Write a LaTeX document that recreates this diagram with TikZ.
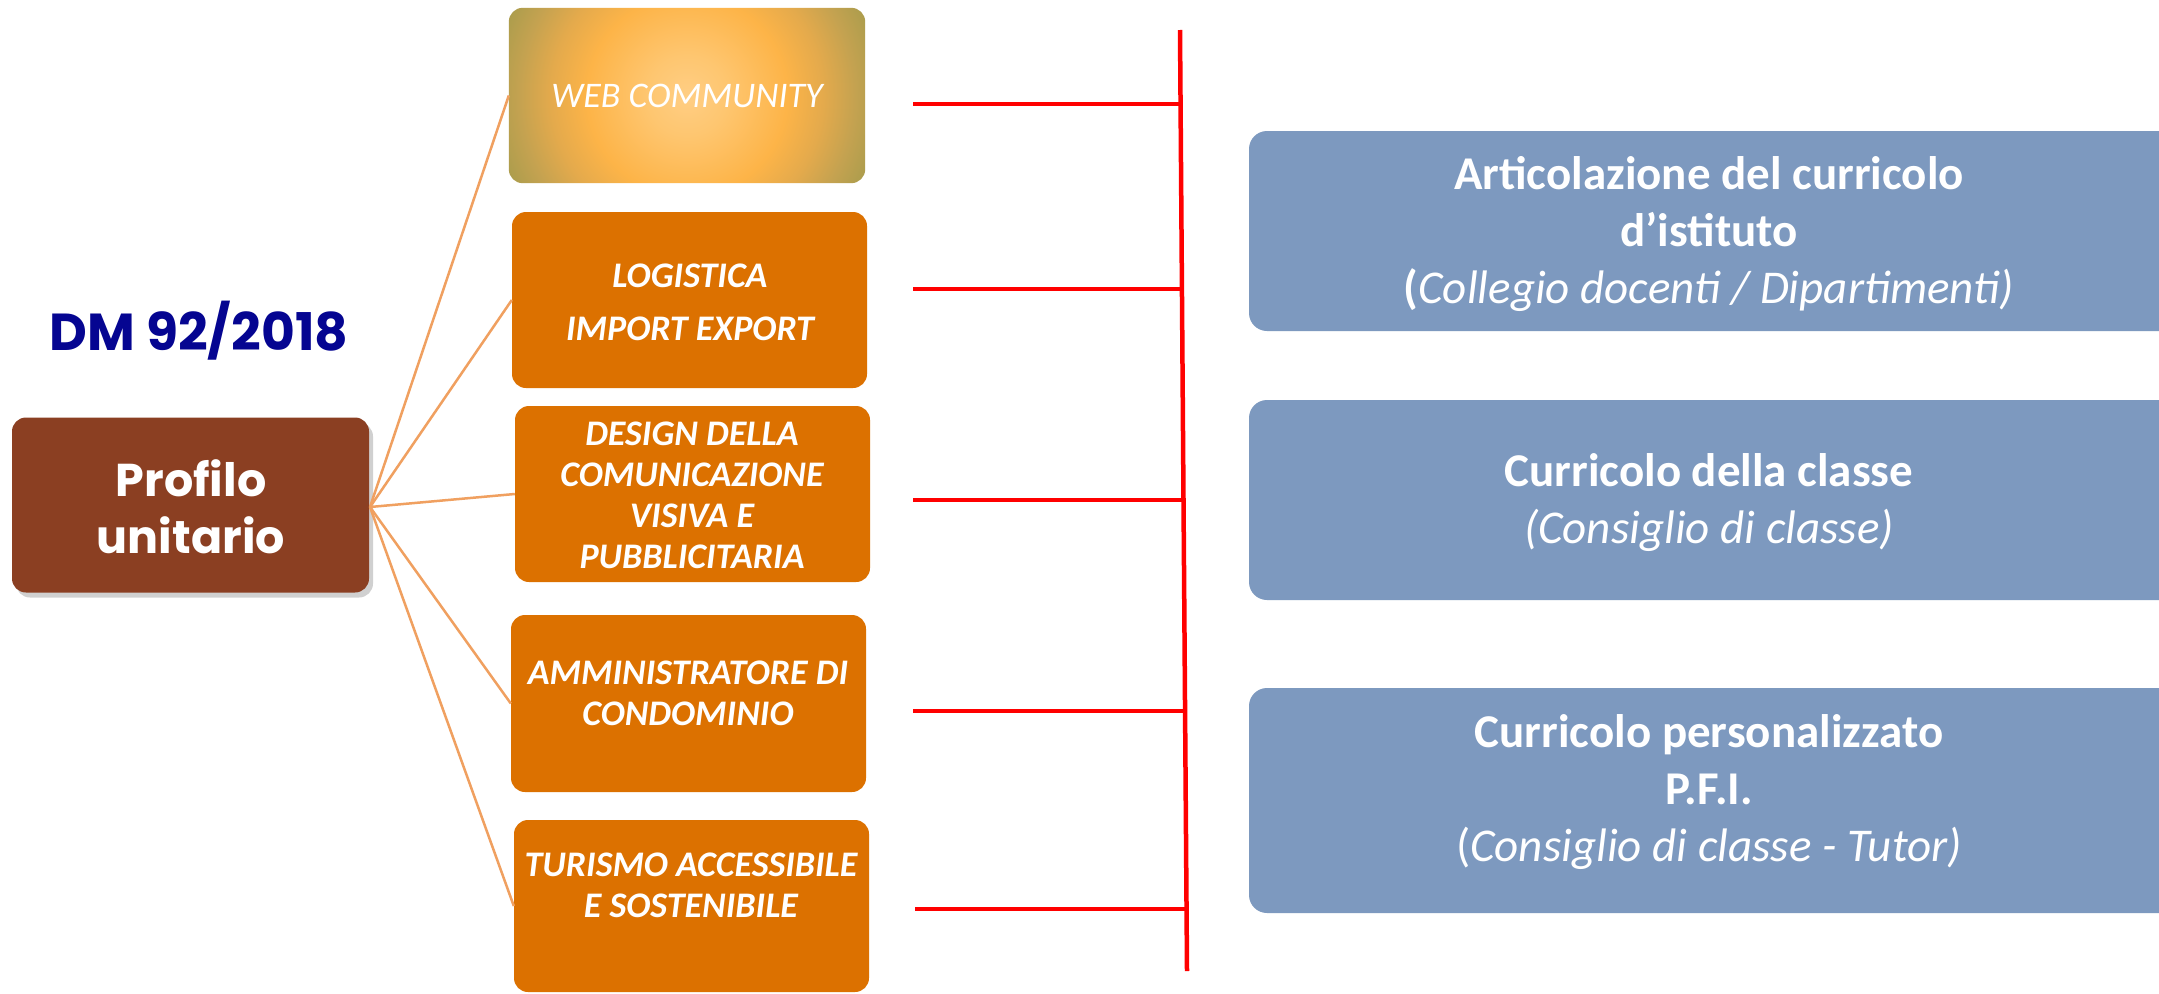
\documentclass[tikz,border=0pt]{standalone}
\usepackage{fontspec}
\setmainfont{Carlito}
\newfontfamily\gothic{Poppins}
\usetikzlibrary{shadows}
\definecolor{brownb}{RGB}{139,63,34}
\definecolor{orangeb}{RGB}{220,113,0}
\definecolor{blueb}{RGB}{125,153,191}
\definecolor{navyt}{RGB}{5,5,145}
\definecolor{connc}{RGB}{240,160,96}
\definecolor{wcA}{RGB}{255,206,132}
\definecolor{wcB}{RGB}{254,198,112}
\definecolor{wcC}{RGB}{253,180,72}
\definecolor{wcD}{RGB}{228,170,76}
\definecolor{wcE}{RGB}{196,162,80}
\definecolor{wcF}{RGB}{168,156,76}
\pgfdeclareradialshading{webglow}{\pgfpoint{0bp}{0bp}}{color(0bp)=(wcA); color(5bp)=(wcB); color(12.5bp)=(wcC); color(17bp)=(wcD); color(21bp)=(wcE); color(25bp)=(wcF); color(50bp)=(wcF)}
\begin{document}
\begin{tikzpicture}[x=1pt,y=-1pt,
  obox/.style={fill=orangeb, rounded corners=14pt, minimum width=355pt, minimum height=176pt, inner sep=0pt},
  otext/.style={text=white, font=\bfseries\itshape\fontsize{36}{41}\selectfont, align=center, inner sep=0pt},
  bbox/.style={fill=blueb, rounded corners=18pt, inner sep=0pt, minimum width=931pt},
  btext/.style={text=white, font=\bfseries\fontsize{47}{57}\selectfont, align=center, inner sep=0pt},
  redline/.style={draw=red, line width=4.5pt},
  conn/.style={draw=connc, line width=2.5pt}]
\useasboundingbox (0,0) rectangle (2159,993);
\fill[white] (0,0) rectangle (2159,993);

% left title
\node[text=navyt, font=\gothic\bfseries\fontsize{52}{58}\selectfont, inner sep=0pt] (dm) at (199,331) {DM 92/2018};

% main brown box
\node[fill=brownb, rounded corners=14pt, minimum width=357pt, minimum height=175pt, inner sep=0pt,
  drop shadow={shadow xshift=4pt, shadow yshift=-5pt, opacity=0.3, fill=black!60}] (prof) at (190.5,505) {};
\node[text=white, font=\gothic\bfseries\fontsize{46}{57}\selectfont, align=center, inner sep=0pt] (proft) at (191,507) {Profilo\\unitario};

% web community box with glow
\node[minimum width=356pt, minimum height=175pt, inner sep=0pt] (web) at (687,95.5) {};
\begin{scope}
  \clip[rounded corners=14pt] (web.south west) rectangle (web.north east);
  \shade[shading=webglow] (web.center) circle[radius=200pt];
\end{scope}
\node[text=white, font=\itshape\fontsize{36}{41}\selectfont, inner sep=0pt] (webt) at (687,96) {WEB COMMUNITY};

% orange boxes
\node[obox] (log) at (689.5,300) {};
\node[otext] (logt) at (690,302) {LOGISTICA\\[12pt]IMPORT EXPORT};
\node[obox] (des) at (692.5,494) {};
\node[otext] (dest) at (692,495) {DESIGN DELLA\\COMUNICAZIONE\\VISIVA E\\PUBBLICITARIA};
\node[obox, minimum height=177pt] (amm) at (688.5,703.5) {};
\node[otext] (ammt) at (688,693) {AMMINISTRATORE DI\\CONDOMINIO};
\node[obox, minimum height=172pt] (tur) at (691.5,906) {};
\node[otext] (turt) at (691,885) {TURISMO ACCESSIBILE\\E SOSTENIBILE};

% connectors
\coordinate (hub) at (370,507);
\draw[conn] (hub) -- (web.west);
\draw[conn] (hub) -- (log.west);
\draw[conn] (hub) -- (des.west);
\draw[conn] (hub) -- (amm.west);
\draw[conn] (hub) -- (tur.west);

% red ladder
\coordinate (vt) at (1180,30);
\coordinate (vb) at (1187,971);
\draw[redline] (vt) -- (vb);
\coordinate (h1a) at (913,104);  \coordinate (h1b) at (1180.6,104);
\coordinate (h2a) at (913,289);  \coordinate (h2b) at (1181.9,289);
\coordinate (h3a) at (913,500);  \coordinate (h3b) at (1183.5,500);
\coordinate (h4a) at (913,711);  \coordinate (h4b) at (1185.1,711);
\coordinate (h5a) at (915,909);  \coordinate (h5b) at (1186.5,909);
\draw[redline] (h1a) -- (h1b);
\draw[redline] (h2a) -- (h2b);
\draw[redline] (h3a) -- (h3b);
\draw[redline] (h4a) -- (h4b);
\draw[redline] (h5a) -- (h5b);

% blue boxes
\node[bbox, minimum height=200pt] (b1) at (1714.5,231) {};
\node[btext] (b1t) at (1709,234) {Articolazione del curricolo\\d’istituto\\{(\mdseries\itshape Collegio docenti / Dipartimenti)}};
\node[bbox, minimum height=200pt] (b2) at (1714.5,500) {};
\node[btext] (b2t) at (1709,503) {Curricolo della classe\\{\mdseries\itshape (Consiglio di classe)}};
\node[bbox, minimum height=225pt] (b3) at (1714.5,800.5) {};
\node[btext] (b3t) at (1709,792) {Curricolo personalizzato\\P.F.I.\\{\mdseries(\itshape Consiglio di classe - Tutor)}};
\end{tikzpicture}
\end{document}
